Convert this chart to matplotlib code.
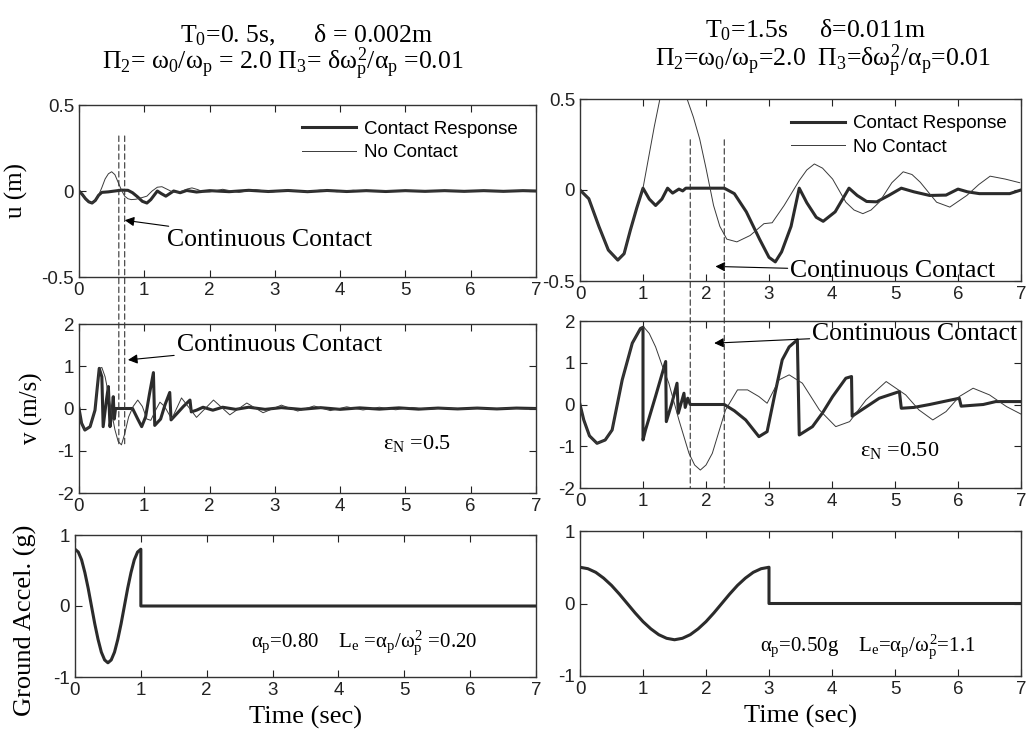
import matplotlib
matplotlib.use('Agg')
import matplotlib.pyplot as plt
from matplotlib.patches import ConnectionPatch

plt.rcParams['font.family'] = ['Liberation Sans', 'DejaVu Sans']
plt.rcParams['mathtext.fontset'] = 'custom'
plt.rcParams['mathtext.rm'] = 'Liberation Serif'
plt.rcParams['mathtext.it'] = 'Liberation Serif'
plt.rcParams['mathtext.bf'] = 'Liberation Serif:bold'
plt.rcParams['axes.unicode_minus'] = False
SERIF = ['Liberation Serif', 'DejaVu Serif']

# ---- left column: T0 = 0.5 s ----
t_lu_c = [0, 0.05, 0.1, 0.15, 0.2, 0.25, 0.3, 0.35, 0.45, 0.55, 0.65, 0.75, 0.82, 0.9, 0.97, 1.04,
          1.1, 1.16, 1.2, 1.26, 1.33, 1.39, 1.45, 1.55, 1.65, 1.8, 2.0, 2.3, 2.6, 2.9, 3.2, 3.5,
          3.8, 4.1, 4.4, 4.7, 5.0, 5.3, 5.6, 5.9, 6.2, 6.5, 6.8, 7.0]
u_lu_c = [0, -0.02, -0.045, -0.063, -0.07, -0.055, -0.025, -0.008, -0.005, 0.0, 0.005, 0.004,
          -0.01, -0.035, -0.06, -0.07, -0.05, -0.02, 0.0, -0.015, -0.03, -0.015, 0.0, -0.01,
          0.003, -0.006, 0.002, -0.004, 0.004, -0.003, 0.003, -0.004, 0.003, -0.003, 0.002,
          -0.003, 0.002, -0.002, 0.002, -0.002, 0.002, -0.002, 0.002, 0.0]
t_lu_n = [0, 0.05, 0.1, 0.15, 0.2, 0.25, 0.3, 0.35, 0.4, 0.45, 0.5, 0.55, 0.6, 0.65, 0.7, 0.75,
          0.8, 0.87, 0.95, 1.04, 1.12, 1.2, 1.27, 1.35, 1.43, 1.5, 1.58, 1.66, 1.73, 1.82, 1.9,
          2.0, 2.2, 2.45, 2.7, 2.95, 3.2, 3.45, 3.7, 3.95, 4.2, 4.45, 4.7, 4.95, 5.2, 5.45, 5.7,
          5.95, 6.2, 6.45, 6.7, 7.0]
u_lu_n = [0, -0.02, -0.045, -0.063, -0.07, -0.055, -0.025, 0.02, 0.07, 0.1, 0.112, 0.095, 0.05,
          0.005, -0.03, -0.045, -0.05, -0.048, -0.04, -0.03, 0.0, 0.022, 0.025, 0.01, -0.005,
          -0.008, 0.0, 0.012, 0.018, 0.008, -0.005, -0.006, 0.01, -0.008, 0.008, -0.006, 0.006,
          -0.005, 0.005, -0.004, 0.004, -0.003, 0.003, -0.003, 0.003, -0.002, 0.002, -0.002,
          0.002, -0.002, 0.002, 0.0]

t_lv_c = [0, 0.04, 0.09, 0.17, 0.245, 0.28, 0.31, 0.35, 0.37, 0.42, 0.45, 0.475, 0.51, 0.525,
          0.54, 0.56, 0.6, 0.7, 0.82, 0.9, 0.96, 1.02, 1.08, 1.14, 1.16, 1.25, 1.32, 1.39, 1.41,
          1.5, 1.6, 1.7, 1.72, 1.8, 1.9, 2.05, 2.2, 2.4, 2.6, 2.85, 3.1, 3.4, 3.7, 4.0, 4.3, 4.6,
          4.9, 5.2, 5.5, 5.8, 6.1, 6.4, 6.7, 7.0]
v_lv_c = [0, -0.35, -0.51, -0.43, -0.04, 0.5, 0.95, 0.75, -0.43, 0.2, 0.52, -0.43, 0.0, 0.28,
          -0.25, 0.0, 0.0, 0.0, 0.0, -0.25, -0.43, -0.2, 0.35, 0.85, -0.4, -0.25, 0.1, 0.38,
          -0.27, -0.12, 0.05, 0.2, -0.08, -0.04, 0.03, -0.04, 0.03, -0.02, 0.03, -0.02, 0.02,
          -0.02, 0.02, -0.02, 0.015, -0.015, 0.015, -0.015, 0.01, -0.01, 0.01, -0.01, 0.01, 0.0]
t_lv_n = [0, 0.04, 0.09, 0.17, 0.245, 0.28, 0.31, 0.35, 0.4, 0.45, 0.5, 0.55, 0.6, 0.65, 0.7,
          0.76, 0.83, 0.9, 0.97, 1.04, 1.1, 1.17, 1.24, 1.31, 1.42, 1.57, 1.8, 2.06, 2.31, 2.57,
          2.82, 3.1, 3.35, 3.6, 3.85, 4.1, 4.35, 4.6, 4.85, 5.1, 5.35, 5.6, 5.85, 6.1, 6.35, 6.6,
          6.85, 7.0]
v_lv_n = [0, -0.35, -0.51, -0.43, -0.04, 0.5, 0.95, 0.97, 0.75, 0.35, -0.1, -0.5, -0.78, -0.86,
          -0.6, -0.2, 0.05, 0.2, 0.05, -0.25, -0.28, -0.05, 0.15, 0.05, -0.25, 0.25, -0.21, 0.2,
          -0.15, 0.13, -0.1, 0.08, -0.06, 0.06, -0.05, 0.04, -0.035, 0.03, -0.03, 0.025, -0.02,
          0.02, -0.02, 0.015, -0.015, 0.01, -0.01, 0.0]

t_la = [0, 0.05, 0.1, 0.15, 0.2, 0.25, 0.3, 0.35, 0.4, 0.45, 0.5, 0.55, 0.6, 0.65, 0.7, 0.75,
        0.8, 0.85, 0.9, 0.95, 1.0, 1.0, 7.0]
a_la = [0.8, 0.76, 0.65, 0.47, 0.25, 0.0, -0.25, -0.47, -0.65, -0.76, -0.8, -0.76, -0.65, -0.47,
        -0.25, 0.0, 0.25, 0.47, 0.65, 0.76, 0.8, 0.0, 0.0]

# ---- right column: T0 = 1.5 s ----
t_ru_c = [0, 0.14, 0.3, 0.45, 0.6, 0.7, 0.8, 0.9, 1.0, 1.1, 1.2, 1.3, 1.39, 1.47, 1.57, 1.63,
          1.68, 2.29, 2.45, 2.64, 2.85, 3.0, 3.1, 3.2, 3.35, 3.48, 3.6, 3.75, 3.86, 4.05, 4.27,
          4.4, 4.55, 4.71, 4.9, 5.1, 5.3, 5.55, 5.81, 6.0, 6.15, 6.34, 6.6, 6.82, 7.0]
u_ru_c = [0, -0.048, -0.2, -0.33, -0.385, -0.35, -0.22, -0.1, 0.01, -0.05, -0.085, -0.05, 0.01,
          -0.017, 0.005, -0.005, 0.01, 0.01, -0.02, -0.12, -0.27, -0.37, -0.395, -0.34, -0.2,
          0.01, -0.07, -0.15, -0.172, -0.12, 0.01, -0.03, -0.063, -0.065, -0.03, 0.01, -0.01,
          -0.03, -0.028, 0.005, -0.01, -0.02, -0.02, -0.02, 0.0]
t_ru_n = [0, 0.14, 0.3, 0.45, 0.6, 0.7, 0.8, 0.9, 1.0, 1.09, 1.18, 1.28, 1.4, 1.5, 1.6, 1.71,
          1.8, 1.9, 2.0, 2.12, 2.22, 2.33, 2.49, 2.7, 2.92, 3.05, 3.24, 3.48, 3.6, 3.72, 3.85,
          4.01, 4.22, 4.35, 4.49, 4.62, 4.75, 4.95, 5.13, 5.27, 5.4, 5.66, 5.87, 6.14, 6.33,
          6.51, 6.75, 6.98]
u_ru_n = [0, -0.048, -0.2, -0.33, -0.385, -0.35, -0.22, -0.1, 0.01, 0.18, 0.35, 0.52, 0.62,
          0.64, 0.6, 0.49, 0.4, 0.28, 0.12, -0.085, -0.2, -0.27, -0.285, -0.25, -0.185, -0.18,
          -0.085, 0.052, 0.11, 0.143, 0.12, 0.06, -0.067, -0.11, -0.13, -0.11, -0.067, 0.04,
          0.1, 0.085, 0.043, -0.067, -0.094, -0.03, 0.03, 0.076, 0.06, 0.04]

t_rv_c = [0, 0.06, 0.15, 0.27, 0.4, 0.51, 0.67, 0.83, 0.96, 1.0, 1.0, 1.04, 1.2, 1.36, 1.37,
          1.46, 1.54, 1.56, 1.65, 1.67, 1.71, 1.75, 2.29, 2.45, 2.63, 2.84, 2.97, 3.1, 3.21,
          3.32, 3.45, 3.48, 3.69, 3.85, 4.01, 4.22, 4.31, 4.32, 4.5, 4.75, 5.07, 5.1, 5.3, 5.55,
          5.8, 6.02, 6.05, 6.4, 6.6, 7.0]
v_rv_c = [0, -0.37, -0.75, -0.93, -0.85, -0.61, 0.59, 1.47, 1.82, 1.85, -0.85, -0.61, 0.2, 1.03,
          -0.41, 0.04, 0.51, -0.21, 0.27, -0.07, 0.15, 0.0, 0.0, -0.15, -0.37, -0.77, -0.65,
          0.3, 1.07, 1.38, 1.55, -0.73, -0.53, -0.2, 0.19, 0.63, 0.67, -0.28, -0.1, 0.15, 0.31,
          -0.09, -0.07, 0.0, 0.08, 0.15, -0.04, 0.0, 0.07, 0.07]
t_rv_n = [0, 0.06, 0.15, 0.27, 0.4, 0.51, 0.67, 0.83, 0.96, 1.01, 1.1, 1.2, 1.3, 1.41, 1.57,
          1.73, 1.82, 1.91, 2.0, 2.1, 2.31, 2.5, 2.66, 2.84, 2.97, 3.16, 3.32, 3.53, 3.8, 4.06,
          4.28, 4.54, 4.86, 5.17, 5.38, 5.6, 5.81, 6.02, 6.24, 6.5, 6.77, 7.0]
v_rv_n = [0, -0.37, -0.75, -0.93, -0.85, -0.61, 0.59, 1.47, 1.82, 1.86, 1.7, 1.38, 0.95, 0.51,
          -0.37, -1.17, -1.45, -1.57, -1.45, -1.17, -0.13, 0.35, 0.35, 0.19, 0.03, 0.59, 0.71,
          0.51, -0.13, -0.53, -0.41, 0.11, 0.55, 0.23, -0.13, -0.37, -0.17, 0.19, 0.39, 0.23,
          -0.05, -0.23]

t_ra = [0, 0.125, 0.25, 0.375, 0.5, 0.625, 0.75, 0.875, 1.0, 1.125, 1.25, 1.375, 1.5, 1.625,
        1.75, 1.875, 2.0, 2.125, 2.25, 2.375, 2.5, 2.625, 2.75, 2.875, 3.0, 3.0, 7.0]
a_ra = [0.5, 0.48, 0.43, 0.35, 0.25, 0.13, 0.0, -0.13, -0.25, -0.35, -0.43, -0.48, -0.5, -0.48,
        -0.43, -0.35, -0.25, -0.13, 0.0, 0.13, 0.25, 0.35, 0.43, 0.48, 0.5, 0.0, 0.0]

# continuous contact interval markers
dash_left = [0.61, 0.70]
dash_right = [1.75, 2.29]

u_ticks, u_labels = [-0.5, 0, 0.5], ['-0.5', '0', '0.5']
v_ticks, v_labels = [-2, -1, 0, 1, 2], ['-2', '-1', '0', '1', '2']
a_ticks, a_labels = [-1, 0, 1], ['-1', '0', '1']

W, H = 1026, 738
fig = plt.figure(figsize=(W / 100, H / 100), dpi=100)


def box(x0, x1, ytop, ybot):
    return [x0 / W, 1 - ybot / H, (x1 - x0) / W, (ybot - ytop) / H]


def style(ax, ticks, labels):
    ax.set_xlim(0, 7)
    ax.set_xticks(range(8))
    ax.set_ylim(ticks[0], ticks[-1])
    ax.set_yticks(ticks)
    ax.set_yticklabels(labels)
    ax.tick_params(direction='in', top=True, right=True, length=5, width=0.8,
                   labelsize=13.5, pad=3.5, colors='#222222')
    for s in ax.spines.values():
        s.set_linewidth(1.0)
        s.set_color('#333333')


ax_lu = fig.add_axes(box(79, 536, 105, 277))
ax_lv = fig.add_axes(box(79, 536, 324, 493))
ax_la = fig.add_axes(box(75, 536, 535, 677))
ax_ru = fig.add_axes(box(580, 1021, 99, 281))
ax_rv = fig.add_axes(box(580, 1021, 321, 488))
ax_ra = fig.add_axes(box(580, 1021, 531, 676))

thick = dict(color='#2b2b2b', lw=2.2)
thin = dict(color='#3a3a3a', lw=0.7)

h1, = ax_lu.plot(t_lu_c, u_lu_c, **thick)
h2, = ax_lu.plot(t_lu_n, u_lu_n, **thin)
ax_lv.plot(t_lv_c, v_lv_c, **thick)
ax_lv.plot(t_lv_n, v_lv_n, **thin)
ax_la.plot(t_la, a_la, **thick)

g1, = ax_ru.plot(t_ru_c, u_ru_c, **thick)
g2, = ax_ru.plot(t_ru_n, u_ru_n, **thin)
ax_rv.plot(t_rv_c, v_rv_c, **thick)
ax_rv.plot(t_rv_n, v_rv_n, **thin)
ax_ra.plot(t_ra, a_ra, **thick)

for ax in (ax_lu, ax_ru):
    style(ax, u_ticks, u_labels)
for ax in (ax_lv, ax_rv):
    style(ax, v_ticks, v_labels)
for ax in (ax_la, ax_ra):
    style(ax, a_ticks, a_labels)

leg_kw = dict(loc='upper left', frameon=False, fontsize=13.5, handlelength=2.9,
              handletextpad=0.4, labelspacing=0.35, borderpad=0, borderaxespad=0)
ax_lu.legend([h1, h2], ['Contact Response', 'No Contact'], bbox_to_anchor=(0.488, 0.91), **leg_kw)
ax_ru.legend([g1, g2], ['Contact Response', 'No Contact'], bbox_to_anchor=(0.478, 0.912), **leg_kw)

# dashed lines spanning the displacement and velocity panels
for t in dash_left:
    fig.add_artist(ConnectionPatch(xyA=(t, 0.32), coordsA='data', axesA=ax_lu,
                                   xyB=(t, -0.9), coordsB='data', axesB=ax_lv,
                                   linestyle=(0, (5, 3)), lw=0.8, color='#333333'))
for t in dash_right:
    fig.add_artist(ConnectionPatch(xyA=(t, 0.276), coordsA='data', axesA=ax_ru,
                                   xyB=(t, -2.0), coordsB='data', axesB=ax_rv,
                                   linestyle=(0, (5, 3)), lw=0.8, color='#333333'))

arrow = dict(arrowstyle='-|>', color='k', lw=0.8, shrinkA=0, shrinkB=0, mutation_scale=14)
ann = dict(ha='left', va='center', fontsize=18.5, family=SERIF, arrowprops=arrow)
ax_lu.annotate('Continuous Contact', xy=(0.70, -0.17), xytext=(1.35, -0.285), **ann)
ax_lv.annotate('Continuous Contact', xy=(0.75, 1.15), xytext=(1.50, 1.50), **ann)
ax_ru.annotate('Continuous Contact', xy=(2.15, -0.42), xytext=(3.34, -0.445), **ann)
ax_rv.annotate('Continuous Contact', xy=(2.13, 1.47), xytext=(3.69, 1.69), **ann)

ax_lv.text(4.66, -0.82, r'$\varepsilon_N$ =0.5', fontsize=16, family=SERIF, va='center')
ax_rv.text(4.44, -1.1, r'$\varepsilon_N$ =0.50', fontsize=16, family=SERIF, va='center')
ax_la.text(2.67, -0.52, r'$\alpha_p$=0.80    $L_e$ =$\alpha_p$/$\omega_p^2$ =0.20',
           fontsize=15, family=SERIF, va='center')
ax_ra.text(2.85, -0.6, r'$\alpha_p$=0.50g    $L_e$=$\alpha_p$/$\omega_p^2$=1.1',
           fontsize=15, family=SERIF, va='center')

ax_lu.set_ylabel('u (m)', fontsize=18, family=SERIF)
ax_lu.yaxis.set_label_coords(-0.112, 0.5)
ax_lv.set_ylabel('v (m/s)', fontsize=18, family=SERIF)
ax_lv.yaxis.set_label_coords(-0.079, 0.5)
ax_la.set_ylabel('Ground Accel. (g)', fontsize=19, family=SERIF)
ax_la.yaxis.set_label_coords(-0.082, 0.40)
ax_la.set_xlabel('Time (sec)', labelpad=5, fontsize=19, family=SERIF)
ax_ra.set_xlabel('Time (sec)', labelpad=5, fontsize=19, family=SERIF)

title = dict(ha='center', va='baseline', fontsize=18.5, family=SERIF)
fig.text(306 / W, 1 - 42 / H, r'T$_0$=0. 5s,      δ = 0.002m', **title)
fig.text(283 / W, 1 - 69 / H,
         r'$\Pi_2$= $\omega_0$/$\omega_p$ = 2.0 $\Pi_3$= $\delta\omega_p^2$/$\alpha_p$ =0.01', **title)
fig.text(815 / W, 1 - 37 / H, r'T$_0$=1.5s     δ=0.011m', **title)
fig.text(823 / W, 1 - 66 / H,
         r'$\Pi_2$=$\omega_0$/$\omega_p$=2.0  $\Pi_3$=$\delta\omega_p^2$/$\alpha_p$=0.01', **title)

fig.savefig('out.png', dpi=100)
